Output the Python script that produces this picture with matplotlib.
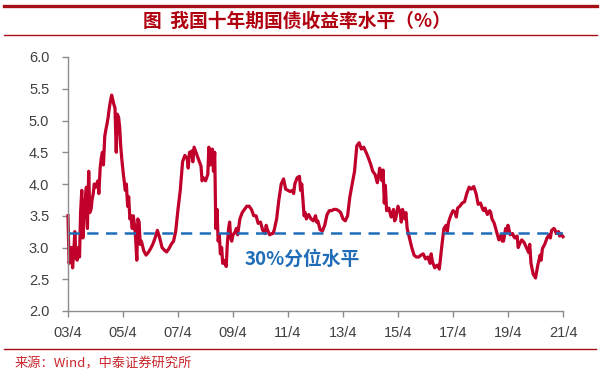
import numpy as np
import pandas as pd
import matplotlib
matplotlib.use("Agg")
import matplotlib.pyplot as plt
from matplotlib.lines import Line2D

plt.rcParams['font.family'] = ['Liberation Sans', 'DejaVu Sans']

# ---- data: 10Y CGB yield, monthly, 2003/4 - 2021/4 ----
start_month = "2003-04-01"
yields = [
    3.50, 2.85, 2.68, 3.25, 2.80, 2.85, 3.90, 3.50, 3.95, 4.20, 3.60, 3.85,   # 03/4-04/3
    3.95, 4.05, 4.25, 4.50, 4.75, 4.95, 5.20, 5.40, 5.25, 4.50, 5.05, 4.60,   # 04/4-05/3
    4.20, 3.90, 3.65, 3.45, 3.30, 3.35, 2.80, 3.40, 3.10, 2.95, 2.88, 2.92,   # 05/4-06/3
    2.98, 3.05, 3.15, 3.27, 3.15, 3.00, 2.96, 2.93, 2.98, 3.05, 3.10, 3.25,   # 06/4-07/3
    3.60, 3.90, 4.35, 4.45, 4.40, 4.50, 4.52, 4.58, 4.48, 4.38, 4.28, 4.10,   # 07/4-08/3
    4.05, 4.15, 4.30, 4.55, 4.50, 3.60, 3.20, 3.00, 2.80, 2.70, 3.30, 3.15,   # 08/4-09/3
    3.20, 3.25, 3.20, 3.45, 3.55, 3.60, 3.65, 3.65, 3.60, 3.50, 3.50, 3.38,   # 09/4-10/3
    3.40, 3.27, 3.22, 3.28, 3.20, 3.22, 3.28, 3.45, 3.75, 4.00, 4.08, 3.92,   # 10/4-11/3
    3.90, 3.88, 3.90, 4.00, 4.10, 4.12, 4.00, 3.50, 3.45, 3.52, 3.45, 3.42,   # 11/4-12/3
    3.50, 3.42, 3.28, 3.26, 3.35, 3.52, 3.58, 3.58, 3.60, 3.60, 3.58, 3.55,   # 12/4-13/3
    3.45, 3.42, 3.50, 3.80, 4.00, 4.20, 4.60, 4.65, 4.55, 4.58, 4.50, 4.42,   # 13/4-14/3
    4.32, 4.20, 4.15, 4.02, 4.25, 4.05, 3.70, 3.58, 3.62, 3.48, 3.60, 3.45,   # 14/4-15/3
    3.65, 3.55, 3.60, 3.45, 3.30, 3.15, 3.00, 2.88, 2.85, 2.85, 2.88, 2.90,   # 15/4-16/3
    2.82, 2.85, 2.75, 2.78, 2.68, 2.72, 2.66, 3.00, 3.30, 3.35, 3.40, 3.50,   # 16/4-17/3
    3.58, 3.55, 3.62, 3.65, 3.70, 3.72, 3.85, 3.95, 3.92, 3.96, 3.85, 3.68,   # 17/4-18/3
    3.70, 3.60, 3.62, 3.52, 3.58, 3.45, 3.38, 3.25, 3.12, 3.20, 3.10, 3.30,   # 18/4-19/3
    3.35, 3.20, 3.22, 3.15, 3.18, 3.05, 3.12, 3.08, 3.00, 2.92, 2.75, 2.58,   # 19/4-20/3
    2.52, 2.72, 2.88, 2.98, 3.05, 3.15, 3.20, 3.27, 3.30, 3.22, 3.25, 3.22,   # 20/4-21/3
    3.17,                                                                      # 21/4
]

# mid-month readings where the daily series swings hard
mid_dates = [
    "2003-04-15", "2003-05-15", "2003-06-15", "2003-07-15", "2003-08-15", "2003-09-15",
    "2003-10-15", "2003-11-15", "2003-12-15", "2004-01-15", "2004-02-15", "2004-03-15",
    "2004-05-15", "2004-06-15", "2004-07-15", "2004-08-15", "2004-09-15", "2004-10-15",
    "2004-12-15", "2005-01-15", "2005-02-15", "2005-03-15", "2005-05-15", "2005-06-15",
    "2005-07-15", "2005-08-15", "2005-09-15", "2005-10-15", "2005-11-15",
    "2007-08-15", "2007-09-15", "2007-10-15", "2008-02-15", "2008-05-15", "2008-07-15",
    "2008-08-15", "2008-09-15", "2008-10-15", "2008-11-15", "2009-01-15", "2009-02-15",
    "2009-03-15", "2009-05-15", "2010-06-15", "2010-09-15", "2011-06-15", "2011-09-15",
    "2011-11-15", "2012-04-15", "2014-07-15", "2014-09-15", "2014-10-15", "2014-12-15",
    "2015-02-15", "2015-05-15", "2015-07-15", "2016-06-15", "2016-09-15", "2017-01-15",
    "2017-05-15", "2018-05-15", "2018-08-15", "2019-01-15", "2019-03-15", "2019-06-15",
    "2019-08-15", "2020-01-15", "2020-06-15", "2020-10-15", "2020-12-15", "2021-02-15",
]
mid_yields = [
    2.75, 3.00, 2.90, 2.85, 3.00, 3.55,
    3.15, 3.75, 3.30, 3.55, 3.75, 4.00,
    3.85, 4.40, 4.30, 4.85, 5.05, 5.30,
    5.20, 5.10, 4.90, 4.40, 4.00, 3.80,
    3.50, 3.50, 3.15, 3.45, 3.05,
    4.25, 4.50, 4.35, 4.05, 4.58, 4.20,
    3.30, 3.10, 2.90, 2.75, 3.05, 3.40,
    3.10, 3.30, 3.35, 3.22, 3.85, 3.90,
    3.55, 3.40, 4.10, 4.22, 3.98, 3.55,
    3.42, 3.40, 3.55, 2.90, 2.72, 3.25,
    3.48, 3.58, 3.55, 3.10, 3.25, 3.18,
    3.00, 3.05, 2.80, 3.15, 3.28, 3.18,
]

pct30 = 3.23
pct30_label = "30%分位水平"

tick_dates = ["2003-04-01", "2005-04-01", "2007-04-01", "2009-04-01", "2011-04-01",
              "2013-04-01", "2015-04-01", "2017-04-01", "2019-04-01", "2021-04-01"]
tick_labels = ["03/4", "05/4", "07/4", "09/4", "11/4", "13/4", "15/4", "17/4", "19/4", "21/4"]
y_ticks = [2.0, 2.5, 3.0, 3.5, 4.0, 4.5, 5.0, 5.5, 6.0]

title = "图  我国十年期国债收益率水平（%）"
source = "来源：Wind，中泰证券研究所"

monthly = pd.Series(yields, index=pd.date_range(start_month, periods=len(yields), freq="MS"))
mid = pd.Series(mid_yields, index=pd.to_datetime(mid_dates))
series = pd.concat([monthly, mid]).sort_index()
ticks = pd.to_datetime(tick_dates)

red = "#C0002A"
dark_red = "#A50F15"
blue = "#1F6DB8"
grey = "#404040"

fig = plt.figure(figsize=(6.0, 3.84), dpi=100)

# header / footer rules
fig.add_artist(Line2D([0.007, 0.995], [1 - 5.5 / 384] * 2, color=dark_red, lw=2.4))
fig.add_artist(Line2D([0.007, 0.995], [1 - 34.7 / 384] * 2, color=dark_red, lw=1.0))
fig.add_artist(Line2D([0.007, 0.993], [1 - 349.3 / 384] * 2, color=dark_red, lw=1.0))

fig.text(0.495, 1 - 21 / 384, title, ha="center", va="center", color="#B0000F",
         fontsize=13.5, fontweight="bold", family=["Noto Sans CJK SC", "DejaVu Sans"])
fig.text(0.025, 1 - 364 / 384, source, ha="left", va="center", color="#C8262C",
         fontsize=9.5, family=["Noto Sans CJK SC", "DejaVu Sans"])

ax = fig.add_axes([68 / 600, 1 - 311 / 384, (563 - 68) / 600, (311 - 57) / 384])
ax.plot(series.index, series.values, color=red, lw=2.3, solid_joinstyle="round", clip_on=False)
ax.axhline(pct30, color=blue, lw=1.8, ls=(0, (4.5, 3.0)))
ax.text(pd.Timestamp("2009-09-01"), 2.82, pct30_label, color=blue, fontsize=13.5,
        fontweight="bold", ha="left", va="center",
        family=["Noto Sans CJK SC", "DejaVu Sans"])

ax.set_xlim(ticks[0], ticks[-1])
ax.set_ylim(2.0, 6.0)
ax.set_xticks(ticks)
ax.set_xticklabels(tick_labels)
ax.set_yticks(y_ticks)
ax.set_yticklabels([f"{v:.1f}" for v in y_ticks])

for s in ["top", "right"]:
    ax.spines[s].set_visible(False)
for s in ["left", "bottom"]:
    ax.spines[s].set_color("#8C8C8C")
    ax.spines[s].set_linewidth(1.0)
ax.tick_params(axis="both", colors="#8C8C8C", length=4.5, width=1.0,
               labelcolor=grey, labelsize=10.5)
ax.tick_params(axis="y", pad=9)
ax.tick_params(axis="x", pad=6)

fig.savefig("out.png", dpi=100)
